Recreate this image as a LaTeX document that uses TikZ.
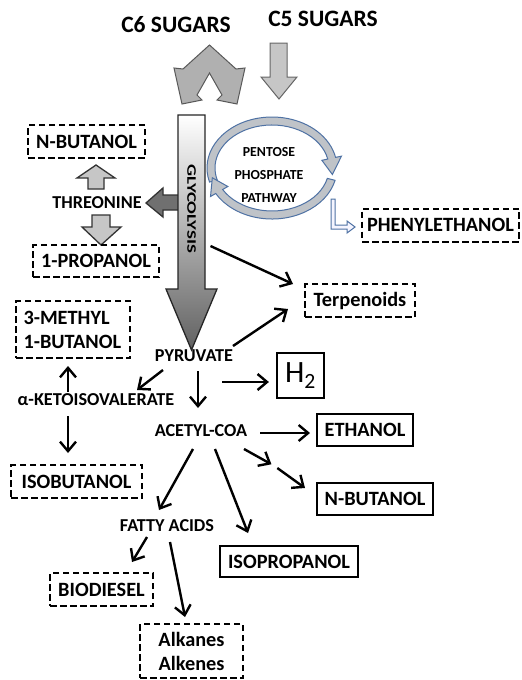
\documentclass[tikz,border=0pt]{standalone}
\usepackage{fontspec}
\setmainfont{Carlito}
\usetikzlibrary{arrows.meta}
\definecolor{ringblue}{HTML}{4F72A4}
\definecolor{ringfill}{HTML}{BFC3C8}
\definecolor{blockfill}{HTML}{C6C6C6}
\definecolor{darkblock}{HTML}{707070}
\begin{document}
\begin{tikzpicture}[x=1pt,y=-1pt,
  big/.style={font=\bfseries\fontsize{23.5}{26}\selectfont, inner sep=0pt},
  lbl/.style={font=\bfseries\fontsize{20.3}{24}\selectfont, inner sep=0pt},
  mid/.style={font=\bfseries\fontsize{18.2}{20}\selectfont, inner sep=0pt},
  dbox/.style={lbl, draw, line width=2pt, dash pattern=on 6.5pt off 3.5pt},
  sbox/.style={lbl, draw, line width=2.2pt},
  conn/.style={line width=2.4pt, -{Straight Barb[length=9.5pt,width=16pt]}},
  block/.style={fill=blockfill, draw=black!80, line width=1.3pt, line join=miter},
  ring/.style={fill=ringfill, draw=ringblue, line width=1pt}
]
\useasboundingbox (0,0) rectangle (522,680);
\fill[white] (0,0) rectangle (522,680);

% sugar inputs
\node[big] (c6) at (176,25) {C6 SUGARS};
\node[big] (c5) at (323,19) {C5 SUGARS};
\filldraw[fill=black!31, draw=black!65, line width=1pt, line join=miter]
  (209.5,45) -- (236,69) -- (245,68) -- (237,104) -- (217,100) -- (222,95) -- (209.5,73)
  -- (197,95) -- (202,100) -- (182,104) -- (174,68) -- (183,69) -- cycle;
\filldraw[fill=blockfill, draw=black!60, line width=1pt, line join=miter]
  (270,43) -- (287,43) -- (287,77) -- (297,77) -- (279,99) -- (261,77) -- (270,77) -- cycle;

% threonine branch
\filldraw[fill=darkblock, draw=black!80, line width=1.3pt, line join=miter]
  (179,195) -- (163,195) -- (163,188) -- (146,203) -- (163,217) -- (163,210) -- (179,210) -- cycle;
\filldraw[block] (88,189) -- (104,189) -- (104,178) -- (115,178) -- (96,165) -- (77,178) -- (88,178) -- cycle;
\filldraw[block] (92,215) -- (110,215) -- (110,227) -- (121,227) -- (101,245) -- (82,227) -- (92,227) -- cycle;
\node[dbox, minimum width=117pt, minimum height=33pt] (nbut1) at (86.5,141.5) {N-BUTANOL};
\node[mid] (thr) at (97,203) {THREONINE};
\node[dbox, minimum width=126pt, minimum height=32pt] (prop) at (96,261) {1-PROPANOL};

% glycolysis arrow
\shade[top color=white, bottom color=black!62, draw=black!85, line width=1.3pt, line join=miter]
  (178,115) -- (205,115) -- (205,289) -- (217,289) -- (191.5,350) -- (166,289) -- (178,289) -- cycle;
\node[font=\bfseries\fontsize{13}{15}\selectfont, inner sep=0pt, rotate=-90] (gly) at (191.5,209)
  {\scalebox{1.45}[1]{GLYCOLYSIS}};

% pentose phosphate pathway
\filldraw[ring] ([shift={(272,168)}]-196:65 and 51) arc[start angle=-196, end angle=-12, x radius=65, y radius=51]
  -- ([shift={(272,168)}]-12:71 and 57) -- ([shift={(272,168)}]8:61 and 47)
  -- ([shift={(272,168)}]-12:51 and 37) -- ([shift={(272,168)}]-12:57 and 43)
  arc[start angle=-12, end angle=-196, x radius=57, y radius=43] -- cycle;
\filldraw[ring] ([shift={(272,168)}]14:65 and 51) arc[start angle=14, end angle=150, x radius=65, y radius=51]
  -- ([shift={(272,168)}]150:71 and 57) -- ([shift={(272,168)}]168:61 and 47)
  -- ([shift={(272,168)}]150:51 and 37) -- ([shift={(272,168)}]150:57 and 43)
  arc[start angle=150, end angle=14, x radius=57, y radius=43] -- cycle;
\node[font=\bfseries\fontsize{13.8}{23}\selectfont, align=center, inner sep=0pt] (ppp) at (269,175)
  {PENTOSE\\PHOSPHATE\\PATHWAY};
\filldraw[fill=blue!4, draw=ringblue, line width=1pt, line join=miter]
  (331,199) -- (335,199) -- (335,225) -- (347,225) -- (347,221) -- (355,227) -- (347,233) -- (347,229) -- (331,229) -- cycle;
\node[dbox, minimum width=157pt, minimum height=33pt] (phen) at (440.5,225) {PHENYLETHANOL};

% main pathway
\node[dbox, minimum width=110pt, minimum height=33pt] (terp) at (360,300.5) {Terpenoids};
\node[mid] (pyr) at (194,356) {PYRUVATE};
\node[sbox, minimum width=47pt, minimum height=45pt, font=\fontsize{31}{34}\selectfont] (h2) at (300.5,375.5) {H\textsubscript{2}};
\node[dbox, minimum width=114pt, minimum height=57pt, align=left, text width=99pt] (meth) at (73,329.5) {3-METHYL\\1-BUTANOL};
\node[mid] (keto) at (96,400) {α-KETOISOVALERATE};
\node[dbox, minimum width=131pt, minimum height=33pt] (isob) at (76.5,481.5) {ISOBUTANOL};
\node[mid] (acet) at (201,431) {ACETYL-COA};
\node[sbox, minimum width=96pt, minimum height=32pt] (eth) at (365,430) {ETHANOL};
\node[sbox, minimum width=116pt, minimum height=32pt] (nbut2) at (375,499) {N-BUTANOL};
\node[sbox, minimum width=138pt, minimum height=31pt] (iso) at (289,561.5) {ISOPROPANOL};
\node[mid] (fatty) at (167,526) {FATTY ACIDS};
\node[dbox, minimum width=103pt, minimum height=33pt] (bio) at (101.5,589.5) {BIODIESEL};
\node[dbox, minimum width=103pt, minimum height=54pt, align=center] (alk) at (191.5,651) {Alkanes\\Alkenes};
\coordinate (nbmid) at (274.5,466);

% connectors
\draw[conn] ([shift={(19,37)}]gly.center) -- ([shift={(-67,-16.5)}]terp.center);
\draw[conn] ([shift={(39,-10)}]pyr.center) -- ([shift={(-72,8.5)}]terp.center);
\draw[conn] ([shift={(28,26)}]pyr.center) -- ([shift={(-7,6.5)}]h2.west);
\draw[conn] ([shift={(-31,14)}]pyr.center) -- ([shift={(41,-10)}]keto.center);
\draw[conn] ([shift={(4,15)}]pyr.center) -- ([shift={(-3,-23)}]acet.center);
\draw[conn] ([shift={(-28,-8)}]keto.center) -- ([shift={(-5,36.5)}]meth.center);
\draw[conn] ([shift={(-28,16)}]keto.center) -- ([shift={(-8.5,-28.5)}]isob.center);
\draw[conn] ([shift={(59,2)}]acet.center) -- ([shift={(-55,3)}]eth.center);
\draw[conn, shorten >=3.5pt] ([shift={(43,18)}]acet.center) -- (nbmid);
\draw[conn, shorten <=3.5pt] (nbmid) -- ([shift={(-70,-11)}]nbut2.center);
\draw[conn] ([shift={(14,18)}]acet.center) -- ([shift={(-41,-28.5)}]iso.center);
\draw[conn] ([shift={(-8,18)}]acet.center) -- ([shift={(-8,-16)}]fatty.center);
\draw[conn] ([shift={(-20,11)}]fatty.center) -- ([shift={(30.5,-27.5)}]bio.center);
\draw[conn] ([shift={(3,16)}]fatty.center) -- ([shift={(-6.5,-34)}]alk.center);
\end{tikzpicture}
\end{document}
